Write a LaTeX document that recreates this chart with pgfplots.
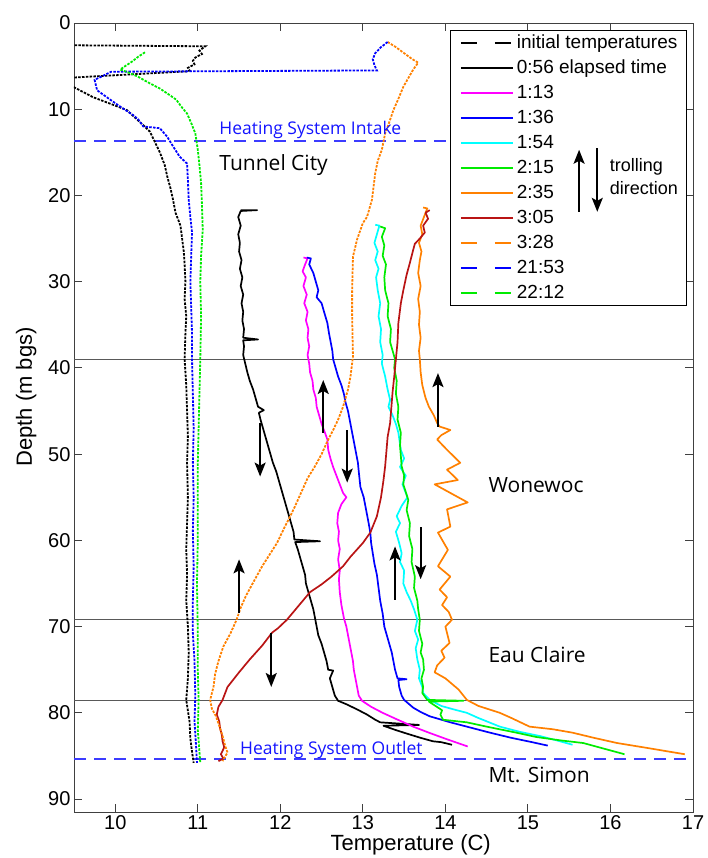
\documentclass[border=0pt]{standalone}
\usepackage{fontspec}
\setmainfont{Liberation Sans}
\newfontfamily\annfont{Open Sans}
\usepackage{pgfplots}
\pgfplotsset{compat=1.18}
\usetikzlibrary{arrows.meta}
\definecolor{cMag}{RGB}{255,0,255}
\definecolor{cBlue}{RGB}{0,0,255}
\definecolor{cCyan}{RGB}{0,255,255}
\definecolor{cGreen}{RGB}{0,235,0}
\definecolor{cOrange}{RGB}{255,128,0}
\definecolor{cRed}{RGB}{185,20,20}
\definecolor{cLineBlue}{RGB}{60,60,255}
\definecolor{cTxtBlue}{RGB}{20,20,255}
\newcommand\fs[1]{\fontsize{#1}{#1}\selectfont}
\tikzset{tarrow/.style={line width=1.9pt,-{Stealth[length=14pt,width=11pt,inset=3pt]}}}
\begin{document}
\begin{tikzpicture}
\begin{axis}[
  scale only axis, width=619pt, height=789pt,
  xmin=9.5, xmax=17, ymin=0, ymax=91.5, y dir=reverse,
  xtick={10,11,12,13,14,15,16,17}, ytick={0,10,20,30,40,50,60,70,80,90},
  tick align=inside, xtick pos=both, ytick pos=both,
  major tick length=8pt,
  axis line style={black!75, line width=0.9pt},
  every tick/.style={black!75, line width=0.9pt},
  tick label style={font=\fs{20}},
  /pgf/number format/assume math mode=true,
  xlabel={Temperature (C)}, ylabel={Depth (m bgs)},
  label style={font=\fs{22}},
  xlabel style={at={(axis description cs:0.544,-0.0494)}, anchor=base},
  ylabel style={at={(axis description cs:-0.0679,0.526)}, anchor=base},
  legend style={at={(0.9903,0.9911)}, anchor=north east,
    draw=black, line width=1.2pt, fill=white,
    font=\fs{19}, inner xsep=9pt, inner ysep=2.5pt, row sep=5pt,
    nodes={inner sep=0pt, text height=15pt, text depth=5pt},
    /tikz/every odd column/.append style={column sep=3pt}},
  legend cell align=left,
  legend image code/.code={\draw[#1,line width=2.2pt] (0pt,0pt) -- (52pt,0pt);},
  sol/.style={line width=1.7pt, line join=round},
  dpat/.style={line width=1.8pt, dash pattern=on 2.5pt off 1.3pt, legend image post style={dash pattern=on 16pt off 18pt}},
]
% reference lines
\addplot[color=black!65, line width=1.3pt, forget plot] coordinates {(9.5,39) (17,39)};
\addplot[color=black!65, line width=1.3pt, forget plot] coordinates {(9.5,69.2) (17,69.2)};
\addplot[color=black!65, line width=1.3pt, forget plot] coordinates {(9.5,78.6) (17,78.6)};
\addplot[color=cLineBlue, line width=1.4pt, dash pattern=on 12pt off 8pt, forget plot] coordinates {(9.5,13.7) (17,13.7)};
\addplot[color=cLineBlue, line width=1.5pt, dash pattern=on 12pt off 8pt, forget plot] coordinates {(9.5,85.35) (17,85.35)};

% initial temperatures
\addplot[color=black, dpat] table {
9.0 2.55
11.09 2.7
11.02 3.2
11.05 3.6
10.97 4.0
10.94 4.4
10.96 4.8
10.88 5.2
10.90 5.5
10.88 5.6
9.35 6.4
9.45 7.2
9.73 8.6
9.95 9.4
10.14 10.1
10.22 10.8
10.30 11.5
10.42 12.6
10.47 13.6
10.54 15.0
10.60 16.5
10.63 17.8
10.67 19.2
10.70 20.5
10.73 22.0
10.79 23.5
10.81 25.0
10.83 26.5
10.84 28.0
10.85 30.0
10.84 32.0
10.86 34.0
10.85 36.0
10.84 39.0
10.86 42.0
10.87 45.0
10.88 48.0
10.87 51.0
10.88 55.0
10.87 58.0
10.86 61.0
10.87 64.0
10.86 67.0
10.88 70.0
10.89 73.0
10.88 76.0
10.86 78.5
10.90 81.0
10.91 83.0
10.93 84.5
10.95 85.8
};
\addlegendentry{initial temperatures}

% 0:56
\addplot[color=black, sol] table {
11.52 21.7
11.72 21.7
11.52 21.8
11.49 22.5
11.52 23.5
11.49 24.5
11.51 25.5
11.50 26.5
11.53 27.5
11.51 28.5
11.54 29.5
11.52 30.5
11.55 31.5
11.53 32.5
11.55 33.5
11.54 34.5
11.56 35.5
11.55 36.5
11.73 36.7
11.55 36.8
11.56 37.5
11.55 38.5
11.57 39.3
11.60 40.5
11.63 41.5
11.67 42.5
11.70 43.5
11.73 44.5
11.80 44.9
11.74 45.2
11.76 46.0
11.79 47.0
11.82 48.0
11.85 49.0
11.88 50.0
11.91 51.0
11.95 52.0
11.98 53.0
12.01 54.0
12.04 55.0
12.07 56.0
12.10 57.0
12.13 58.0
12.16 59.0
12.17 59.9
12.48 60.1
12.18 60.2
12.21 61.0
12.24 62.0
12.27 63.0
12.30 64.0
12.31 65.0
12.34 66.0
12.37 67.0
12.40 68.0
12.42 69.0
12.44 70.0
12.46 71.0
12.50 72.0
12.53 73.0
12.56 74.0
12.58 75.0
12.64 75.1
12.60 76.0
12.63 77.0
12.66 78.0
12.70 78.6
12.80 79.0
12.93 79.6
13.05 80.2
13.15 80.8
13.21 81.1
13.68 81.4
13.25 81.5
13.40 82.0
13.53 82.4
13.70 82.9
13.85 83.3
13.95 83.4
14.08 83.7
};
\addlegendentry{0:56 elapsed time}

% 1:13
\addplot[color=cMag, sol] table {
12.28 27.2
12.33 27.3
12.30 28.0
12.27 28.8
12.31 29.5
12.28 30.5
12.32 31.5
12.29 32.5
12.33 33.5
12.31 34.5
12.34 35.5
12.33 36.5
12.35 37.5
12.33 38.5
12.35 39.5
12.36 40.5
12.39 41.5
12.40 42.5
12.43 43.5
12.44 44.5
12.47 45.5
12.50 46.5
12.54 47.5
12.57 48.3
12.58 49.5
12.61 50.6
12.64 51.5
12.68 52.5
12.72 53.5
12.76 54.5
12.80 55.0
12.74 55.8
12.70 56.8
12.69 58.0
12.71 59.0
12.70 60.0
12.72 61.0
12.70 62.2
12.72 63.5
12.71 64.5
12.72 66.0
12.74 67.5
12.77 69.0
12.80 70.0
12.82 71.0
12.84 72.0
12.86 73.0
12.88 74.0
12.89 75.0
12.91 76.0
12.93 77.0
12.95 78.0
12.99 78.6
13.10 79.3
13.24 80.0
13.40 80.7
13.61 81.6
13.80 82.3
14.00 83.0
14.15 83.5
14.27 83.9
};
\addlegendentry{1:13}

% 1:36
\addplot[color=cBlue, sol] table {
12.32 27.2
12.37 27.3
12.35 28.0
12.40 29.0
12.43 30.0
12.46 31.0
12.44 31.8
12.50 32.5
12.53 33.5
12.57 34.8
12.59 36.0
12.61 37.0
12.63 38.0
12.64 39.0
12.67 40.0
12.70 41.0
12.74 42.0
12.77 43.0
12.79 44.0
12.82 45.0
12.84 46.0
12.86 47.0
12.88 48.0
12.90 49.0
12.92 50.0
12.94 51.0
12.95 52.0
12.97 53.8
13.01 55.0
13.04 56.5
13.07 58.0
13.09 59.1
13.10 60.3
13.12 61.5
13.14 62.7
13.17 64.0
13.19 65.5
13.21 67.0
13.24 68.5
13.26 70.0
13.29 71.0
13.32 72.0
13.35 73.0
13.37 74.0
13.39 75.0
13.42 76.0
13.53 76.1
13.43 76.2
13.44 77.0
13.47 78.0
13.50 78.5
13.61 79.4
13.70 79.9
13.81 80.4
14.06 81.1
14.30 81.7
14.54 82.3
14.80 82.9
15.05 83.4
15.24 83.8
};
\addlegendentry{1:36}

% 1:54
\addplot[color=cCyan, sol] table {
13.15 23.4
13.20 23.5
13.17 24.5
13.14 25.5
13.18 26.5
13.15 27.5
13.19 28.5
13.16 29.5
13.18 31.0
13.21 32.5
13.19 34.0
13.22 35.5
13.21 37.0
13.24 38.5
13.23 39.5
13.27 41.0
13.30 42.5
13.33 43.7
13.31 44.5
13.36 45.5
13.40 46.5
13.43 47.5
13.46 49.5
13.50 50.5
13.45 51.5
13.52 52.5
13.48 53.5
13.54 55.0
13.47 56.0
13.41 57.2
13.45 58.0
13.40 59.0
13.44 60.3
13.47 61.5
13.45 62.5
13.50 63.5
13.49 65.0
13.53 66.0
13.58 67.0
13.62 68.0
13.66 69.2
13.63 70.5
13.67 71.5
13.64 72.5
13.66 73.8
13.69 75.0
13.68 76.0
13.72 77.0
13.73 77.7
13.81 78.5
13.95 79.2
14.10 79.6
14.26 80.0
14.40 80.6
14.53 81.1
14.66 81.6
14.90 82.2
15.15 82.7
15.35 83.2
15.54 83.7
};
\addlegendentry{1:54}

% 2:15
\addplot[color=cGreen, sol] table {
13.21 23.6
13.27 23.8
13.23 24.8
13.26 25.8
13.24 27.0
13.28 28.0
13.26 29.5
13.27 31.0
13.31 32.5
13.30 34.0
13.34 35.5
13.33 37.0
13.36 38.0
13.39 39.0
13.38 40.0
13.41 41.5
13.40 43.0
13.43 44.5
13.42 46.0
13.46 47.5
13.45 49.0
13.47 51.4
13.50 52.5
13.49 53.5
13.55 55.3
13.53 56.5
13.57 58.0
13.56 59.5
13.60 61.0
13.59 62.5
13.63 64.2
13.62 65.5
13.66 67.0
13.67 68.0
13.69 69.2
13.68 70.5
13.72 72.0
13.70 73.0
13.73 73.8
13.74 75.0
13.71 76.0
13.73 77.0
13.72 77.7
13.78 78.5
14.22 78.6
13.80 78.7
13.88 79.2
13.96 79.7
13.94 80.2
13.97 80.8
14.26 81.1
14.50 81.6
14.86 82.3
15.10 82.8
15.40 83.2
15.67 83.5
15.90 84.1
16.17 84.8
};
\addlegendentry{2:15}

% 2:35
\addplot[color=cOrange, sol] table {
13.73 21.4
13.78 21.5
13.74 22.5
13.70 23.5
13.72 24.5
13.68 25.5
13.71 26.5
13.69 27.5
13.67 29.0
13.70 30.5
13.67 32.0
13.69 33.5
13.68 35.0
13.70 36.5
13.68 38.0
13.69 39.0
13.70 40.5
13.72 42.0
13.76 43.5
13.80 44.5
13.86 45.5
13.90 46.4
13.93 46.8
14.06 47.2
13.95 47.8
13.90 48.3
14.02 49.5
14.18 51.0
14.02 51.8
14.15 53.0
13.87 53.5
14.06 54.5
14.27 55.6
14.02 56.4
14.06 58.4
13.91 59.1
14.03 61.1
13.91 63.0
14.06 64.2
13.93 65.7
14.02 66.6
13.96 67.5
14.04 68.3
14.08 69.2
14.00 70.0
14.05 71.9
13.95 72.8
13.99 73.6
13.90 74.5
13.87 75.3
14.00 76.0
14.16 77.3
14.26 78.5
14.40 79.2
14.66 80.0
14.80 80.6
15.02 81.6
15.30 81.9
15.54 82.3
15.80 82.9
16.08 83.5
16.40 84.0
16.90 84.8
};
\addlegendentry{2:35}

% 3:05
\addplot[color=cRed, sol] table {
13.81 21.7
13.76 22.0
13.79 22.7
13.73 23.5
13.75 24.3
13.69 25.0
13.63 25.6
13.61 26.3
13.57 27.8
13.53 29.2
13.49 31.0
13.46 32.5
13.43 34.8
13.42 37.0
13.40 39.0
13.38 41.0
13.36 42.8
13.33 46.4
13.30 48.0
13.27 51.4
13.25 53.0
13.22 55.0
13.17 57.2
13.09 59.1
13.00 60.3
12.85 61.9
12.76 63.0
12.62 64.2
12.50 65.1
12.36 66.0
12.22 67.6
12.08 69.2
11.97 70.2
11.90 70.7
11.78 72.2
11.63 73.8
11.50 75.3
11.36 77.0
11.30 78.5
11.25 79.3
11.23 80.2
11.26 81.0
11.27 81.8
11.29 82.5
11.30 83.3
11.32 84.0
11.28 84.8
11.31 85.3
11.25 85.6
};
\addlegendentry{3:05}

% 3:28
\addplot[color=cOrange, dpat] table {
13.30 2.2
13.40 2.8
13.50 3.5
13.60 4.2
13.67 4.6
13.61 5.4
13.55 6.4
13.49 7.4
13.43 8.8
13.37 10.1
13.32 11.5
13.27 12.8
13.23 14.7
13.18 16.0
13.15 17.4
13.11 20.5
13.05 22.5
13.00 23.2
12.93 25.1
12.88 27.1
12.87 31.0
12.87 34.0
12.88 38.7
12.85 41.0
12.82 42.5
12.76 44.5
12.70 46.0
12.64 47.2
12.57 48.5
12.50 50.0
12.42 51.4
12.33 52.8
12.25 54.5
12.18 56.0
12.12 57.2
12.05 58.5
11.96 60.3
11.88 61.5
11.78 63.0
11.67 64.9
11.58 66.5
11.52 67.8
11.47 69.2
11.40 70.7
11.31 72.3
11.25 74.0
11.21 75.5
11.19 77.0
11.15 78.5
11.17 79.5
11.22 80.4
11.26 81.5
11.31 83.0
11.33 83.8
11.36 84.6
11.30 85.6
};
\addlegendentry{3:28}

% 21:53
\addplot[color=cBlue, dpat] table {
13.30 2.2
13.22 2.8
13.15 3.5
13.12 4.2
13.14 4.9
13.17 5.5
9.95 5.65
9.75 6.6
9.78 7.8
9.94 8.9
10.06 9.7
10.22 10.7
10.28 11.2
10.34 12.0
10.54 12.2
10.63 13.2
10.70 14.3
10.78 15.5
10.87 16.3
10.88 18.2
10.89 20.5
10.91 22.5
10.93 24.3
10.92 27.0
10.91 30.0
10.92 33.0
10.93 36.0
10.93 39.0
10.94 43.0
10.95 47.0
10.94 51.0
10.95 55.0
10.94 59.0
10.95 63.0
10.94 67.0
10.94 70.7
10.96 74.0
10.97 78.0
10.96 81.0
10.98 84.0
10.99 85.8
};
\addlegendentry{21:53}

% 22:12
\addplot[color=cGreen, dpat] table {
10.36 3.4
10.28 3.9
10.20 4.5
10.12 5.0
10.06 5.4
10.15 5.7
10.27 6.2
10.40 6.9
10.54 7.6
10.65 8.3
10.74 8.9
10.80 9.7
10.87 10.5
10.92 11.6
10.97 12.8
11.00 14.7
11.02 16.5
11.04 18.6
11.05 21.0
11.06 24.0
11.04 27.0
11.03 30.0
11.04 34.0
11.03 39.0
11.02 43.0
11.01 47.0
11.00 51.0
11.00 55.0
11.00 60.0
10.99 65.0
11.00 70.7
11.00 75.0
11.01 78.5
11.00 82.0
11.02 84.5
11.03 85.8
};
\addlegendentry{22:12}

% annotations
\node[anchor=base west, text=cTxtBlue, font=\annfont\fs{17.5}, inner sep=0pt] at (axis cs:11.26,12.98) {Heating System Intake};
\node[anchor=base west, text=cTxtBlue, font=\annfont\fs{17.5}, inner sep=0pt] at (axis cs:11.51,84.85) {Heating System Outlet};
\node[anchor=base west, font=\annfont\fs{21}, inner sep=0pt] at (axis cs:11.26,17.15) {Tunnel City};
\node[anchor=base west, font=\annfont\fs{21}, inner sep=0pt] at (axis cs:14.52,54.4) {Wonewoc};
\node[anchor=base west, font=\annfont\fs{21}, inner sep=0pt] at (axis cs:14.52,74.2) {Eau Claire};
\node[anchor=base west, font=\annfont\fs{21}, inner sep=0pt] at (axis cs:14.52,88.1) {Mt. Simon};

% trolling arrows
\draw[tarrow] (axis cs:11.755,46.4) -- (axis cs:11.755,52.6);
\draw[tarrow] (axis cs:12.52,47.5) -- (axis cs:12.52,41.4);
\draw[tarrow] (axis cs:12.81,47.2) -- (axis cs:12.81,53.3);
\draw[tarrow] (axis cs:13.91,46.8) -- (axis cs:13.91,40.6);
\draw[tarrow] (axis cs:13.39,66.9) -- (axis cs:13.39,60.7);
\draw[tarrow] (axis cs:13.70,58.5) -- (axis cs:13.70,64.5);
\draw[tarrow] (axis cs:11.50,68.4) -- (axis cs:11.50,62.2);
\draw[tarrow] (axis cs:11.89,70.7) -- (axis cs:11.89,77.0);

\coordinate (lu1) at (axis cs:15.62,21.9);
\coordinate (lu2) at (axis cs:15.62,14.7);
\coordinate (ld1) at (axis cs:15.84,14.5);
\coordinate (ld2) at (axis cs:15.84,21.9);
\coordinate (lt1) at (axis cs:15.99,17.27);
\coordinate (lt2) at (axis cs:15.99,19.94);
\end{axis}
\draw[tarrow] (lu1) -- (lu2);
\draw[tarrow] (ld1) -- (ld2);
\node[anchor=base west, font=\fs{18}, inner sep=0pt] at (lt1) {trolling};
\node[anchor=base west, font=\fs{18}, inner sep=0pt] at (lt2) {direction};
\pgfresetboundingbox
\useasboundingbox (-74pt,-46pt) rectangle (633pt,812pt);
\end{tikzpicture}
\end{document}
